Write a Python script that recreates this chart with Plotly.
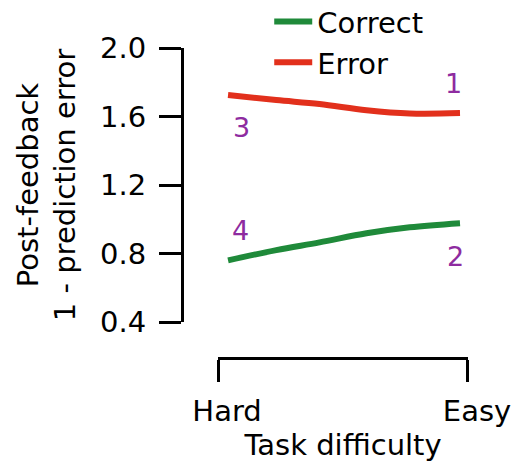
import plotly.graph_objects as go

# Task difficulty positions (0 = Hard, 1 = Easy) sampled along the curves
difficulty = [0.04, 0.233, 0.406, 0.594, 0.767, 0.968]
correct = [0.76, 0.82, 0.865, 0.918, 0.953, 0.977]
error = [1.725, 1.696, 1.673, 1.637, 1.618, 1.62]

x_ticks = [0, 1]
x_tick_labels = ["Hard", "Easy"]
y_ticks = [0.4, 0.8, 1.2, 1.6, 2.0]
y_tick_labels = ["0.4", "0.8", "1.2", "1.6", "2.0"]

FONT = "DejaVu Sans, Liberation Sans, Arial, sans-serif"
GREEN = "#1f8a3a"
RED = "#e2301c"
PURPLE = "#8e2ba0"

fig = go.Figure()
fig.add_trace(go.Scatter(x=difficulty, y=correct, mode="lines", name="Correct",
                         line=dict(color=GREEN, width=6, shape="spline")))
fig.add_trace(go.Scatter(x=difficulty, y=error, mode="lines", name="Error",
                         line=dict(color=RED, width=6, shape="spline")))

# condition numbers next to the curve ends
labels = [
    ("1", difficulty[-1], error[-1], -7, 30),
    ("2", difficulty[-1], correct[-1], -5, -33),
    ("3", difficulty[0], error[0], 13, -32),
    ("4", difficulty[0], correct[0], 12, 30),
]
for txt, xx, yy, dx, dy in labels:
    fig.add_annotation(x=xx, y=yy, text=txt, showarrow=False, xshift=dx, yshift=dy,
                       font=dict(family=FONT, size=27, color=PURPLE))

fig.update_layout(
    width=517, height=470,
    margin=dict(l=182, r=49, t=48, b=112, autoexpand=False),
    plot_bgcolor="white", paper_bgcolor="white",
    font=dict(family=FONT, size=29, color="black"),
    showlegend=True,
    legend=dict(x=0.305, y=1.167, xanchor="left", yanchor="top", itemwidth=38,
                bgcolor="rgba(0,0,0,0)", font=dict(size=29), tracegroupgap=0),
    xaxis=dict(domain=[0.126, 1], anchor="free", position=0,
               range=[0, 1], tickvals=x_ticks, ticktext=x_tick_labels,
               showgrid=False, zeroline=False, showline=True, linecolor="black",
               linewidth=3, ticks="outside", ticklen=22, tickwidth=3, tickcolor="black",
               ticklabelshift=9, ticklabelstandoff=4,
               title=dict(text="Task difficulty", font=dict(size=29), standoff=6)),
    yaxis=dict(domain=[0.116, 1], anchor="free", position=0,
               range=[0.4, 2.0], tickvals=y_ticks, ticktext=y_tick_labels,
               showgrid=False, zeroline=False, showline=True, linecolor="black",
               linewidth=3, ticks="outside", ticklen=22, tickwidth=3, tickcolor="black",
               ticklabelstandoff=7,
               title=dict(text="Post-feedback<br>1 - prediction error", font=dict(size=29),
                          standoff=14)),
)

fig.write_html("out.html")
